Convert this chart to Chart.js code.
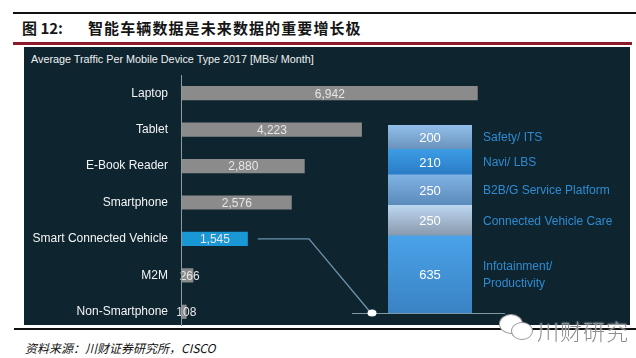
<!DOCTYPE html>
<html>
<head>
<meta charset="utf-8">
<script src="https://cdn.jsdelivr.net/npm/chart.js@4.4.1/dist/chart.umd.min.js"></script>
<style>
  html, body { margin:0; padding:0; background:#fff; }
  body { width:636px; height:358px; position:relative; overflow:hidden; font-family:"Liberation Sans", Arial, sans-serif; }
  .abs { position:absolute; }
  #topline { left:13px; top:12px; width:623px; height:2px; background:#111; }
  #redline { left:13px; top:42px; width:619px; height:3px; background:#8b1b2b; }
  #panel { left:24px; top:47px; width:606px; height:278px; background:#0e2530; }
  #botline { left:14px; top:328px; width:622px; height:2px; background:#111; }
  #t1 { left:22px; top:17px; font:bold 15px "Noto Sans CJK SC", sans-serif; color:#151515; white-space:pre; }
  #t2 { left:88px; top:17px; font:bold 15px "Noto Sans CJK SC", sans-serif; color:#151515; letter-spacing:1.1px; }
  #sub { left:31px; top:53px; font:10.8px "Liberation Sans", Arial, sans-serif; color:#f0f0f0; }
  #src { left:25px; top:339px; font:italic 12px "Noto Sans CJK SC", sans-serif; color:#111; }
  #wm { left:537px; top:314px; font:300 22px "Noto Sans CJK SC", sans-serif; color:#8d8d8d; text-shadow:0 0 2px #fff; letter-spacing:1px; }
  canvas { position:absolute; left:0; top:0; }
  .bub { position:absolute; border:1.5px solid #9a9a9a; background:#fff; border-radius:50%; }
</style>
</head>
<body>
<div class="abs" id="topline"></div>
<div class="abs" id="t1">图 12:</div>
<div class="abs" id="t2">智能车辆数据是未来数据的重要增长极</div>
<div class="abs" id="redline"></div>
<div class="abs" id="panel"></div>
<div class="abs" id="sub">Average Traffic Per Mobile Device Type 2017 [MBs/ Month]</div>
<div class="abs" id="botline"></div>
<div class="abs" id="src">资料来源：川财证券研究所，CISCO</div>
<canvas id="c1" width="636" height="358"></canvas>
<canvas id="c2" width="636" height="358"></canvas>
<div class="bub" style="left:499px;top:314px;width:22px;height:18px;"></div>
<div class="bub" style="left:511px;top:322px;width:20px;height:16px;"></div>
<div class="abs" id="wm">川财研究</div>
<script>
// ---- data ----
const categories = ['Laptop', 'Tablet', 'E-Book Reader', 'Smartphone', 'Smart Connected Vehicle', 'M2M', 'Non-Smartphone'];
const traffic = [6942, 4223, 2880, 2576, 1545, 266, 108];
const trafficLabels = ['6,942', '4,223', '2,880', '2,576', '1,545', '266', '108'];
const highlightCategory = 'Smart Connected Vehicle';

// vehicle breakdown, bottom to top
const segmentNames = [['Infotainment/', 'Productivity'], ['Connected Vehicle Care'], ['B2B/G Service Platform'], ['Navi/ LBS'], ['Safety/ ITS']];
const segmentValues = [635, 250, 250, 210, 200];

// ---- styles ----
const greyBar = '#8b8b8b';
const blueBar = '#1a98d6';
const segGradients = [
  ['#4aa2e8', '#3a82c4'],
  ['#bcd6f0', '#8899ab'],
  ['#80b2e4', '#5a8aba'],
  ['#3c9ce4', '#2a7cc6'],
  ['#92c0ea', '#6892bc']
];
const legendColor = '#2f8bd1';

Chart.defaults.font.family = '"Liberation Sans", Arial, sans-serif';

const valueLabelPlugin = {
  id: 'valueLabels',
  afterDatasetsDraw(chart) {
    const ctx = chart.ctx;
    const meta = chart.getDatasetMeta(0);
    ctx.save();
    ctx.font = '12px "Liberation Sans", Arial, sans-serif';
    ctx.fillStyle = '#e6e6e6';
    ctx.textAlign = 'center';
    ctx.textBaseline = 'middle';
    meta.data.forEach((bar, i) => {
      const p = bar.getProps(['x', 'y', 'base'], true);
      let cx = (p.x + p.base) / 2;
      if (p.x - p.base < 20) cx += 2;
      ctx.fillText(trafficLabels[i], cx, p.y + 1);
    });
    // axis line
    const x0 = chart.scales.x.getPixelForValue(0) - 0.5;
    ctx.strokeStyle = '#8a9aa2';
    ctx.lineWidth = 1;
    ctx.beginPath();
    ctx.moveTo(x0, chart.chartArea.top);
    ctx.lineTo(x0, 326);
    ctx.stroke();
    ctx.restore();
  },
  beforeDatasetsDraw(chart) {
    // connector from vehicle bar to breakdown stack
    const ctx = chart.ctx;
    const idx = categories.indexOf(highlightCategory);
    const bar = chart.getDatasetMeta(0).data[idx].getProps(['x', 'y'], true);
    const baseY = 313;
    ctx.save();
    ctx.strokeStyle = '#6d93ad';
    ctx.lineWidth = 1.3;
    ctx.beginPath();
    ctx.moveTo(bar.x + 10, bar.y);
    ctx.lineTo(309, bar.y);
    ctx.lineTo(371, baseY);
    ctx.stroke();
    ctx.strokeStyle = '#7f98a8';
    ctx.lineWidth = 1;
    ctx.beginPath();
    ctx.moveTo(352, baseY + 0.5);
    ctx.lineTo(505, baseY + 0.5);
    ctx.stroke();
    ctx.fillStyle = '#ffffff';
    ctx.beginPath();
    ctx.ellipse(372, baseY, 4.5, 3.5, 0, 0, Math.PI * 2);
    ctx.fill();
    ctx.restore();
  }
};

new Chart(document.getElementById('c1'), {
  type: 'bar',
  data: {
    labels: categories,
    datasets: [{
      data: traffic,
      backgroundColor: categories.map(c => c === highlightCategory ? blueBar : greyBar),
      borderWidth: 0,
      barPercentage: 0.39,
      categoryPercentage: 1
    }]
  },
  options: {
    indexAxis: 'y',
    responsive: false,
    animation: false,
    devicePixelRatio: 1,
    layout: { padding: { left: 0, top: 75, right: 28, bottom: 28 } },
    plugins: { legend: { display: false }, tooltip: { enabled: false } },
    scales: {
      x: { display: false, min: 0, max: 10000 },
      y: {
        grid: { display: false, drawTicks: false },
        border: { display: false },
        ticks: { color: '#f4f4f4', font: { size: 12 }, padding: 14 },
        afterFit(scale) { scale.width = 182; }
      }
    }
  },
  plugins: [valueLabelPlugin]
});

const stackLabelPlugin = {
  id: 'stackLabels',
  afterDatasetsDraw(chart) {
    const ctx = chart.ctx;
    ctx.save();
    ctx.textBaseline = 'middle';
    chart.data.datasets.forEach((ds, i) => {
      const bar = chart.getDatasetMeta(i).data[0].getProps(['x', 'y', 'base'], true);
      const cy = (bar.y + bar.base) / 2;
      ctx.font = '13px "Liberation Sans", Arial, sans-serif';
      ctx.fillStyle = '#ffffff';
      ctx.textAlign = 'center';
      ctx.fillText(String(segmentValues[i]), bar.x, cy + 1);
      ctx.font = '12px "Liberation Sans", Arial, sans-serif';
      ctx.fillStyle = legendColor;
      ctx.textAlign = 'left';
      const lines = segmentNames[i];
      const lh = 17;
      lines.forEach((ln, k) => {
        ctx.fillText(ln, chart.chartArea.right + 11, cy + 1 + (k - (lines.length - 1) / 2) * lh);
      });
    });
    ctx.restore();
  }
};

function segGradient(context) {
  const chart = context.chart;
  const i = context.datasetIndex;
  const y = chart.scales.y;
  if (!y || !chart.chartArea) return segGradients[i][0];
  let cum = 0;
  for (let k = 0; k < i; k++) cum += segmentValues[k];
  const top = y.getPixelForValue(cum + segmentValues[i]);
  const bot = y.getPixelForValue(cum);
  const g = chart.ctx.createLinearGradient(0, top, 0, bot);
  g.addColorStop(0, segGradients[i][0]);
  g.addColorStop(1, segGradients[i][1]);
  return g;
}

new Chart(document.getElementById('c2'), {
  type: 'bar',
  data: {
    labels: [highlightCategory],
    datasets: segmentValues.map((v, i) => ({
      data: [v],
      backgroundColor: segGradient,
      borderWidth: 0,
      barPercentage: 1,
      categoryPercentage: 1
    }))
  },
  options: {
    responsive: false,
    animation: false,
    devicePixelRatio: 1,
    layout: { padding: { left: 388, right: 164, top: 125, bottom: 45 } },
    plugins: { legend: { display: false }, tooltip: { enabled: false } },
    scales: {
      x: { stacked: true, display: false },
      y: { stacked: true, display: false, min: 0, max: segmentValues.reduce((a, b) => a + b, 0) }
    }
  },
  plugins: [stackLabelPlugin]
});
</script>
</body>
</html>
